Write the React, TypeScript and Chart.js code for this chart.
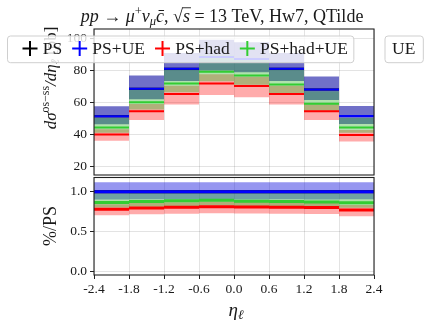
import React, { useEffect, useRef } from 'react';
import { Chart, registerables } from 'chart.js';

Chart.register(...registerables);

// ---------- data ----------
const binEdges = [-2.4, -1.8, -1.2, -0.6, 0.0, 0.6, 1.2, 1.8, 2.4];
const binCenters = [-2.1, -1.5, -0.9, -0.3, 0.3, 0.9, 1.5, 2.1];
const xTicks = [-2.4, -1.8, -1.2, -0.6, 0.0, 0.6, 1.2, 1.8, 2.4];
const yTicksTop = [20, 40, 60, 80, 100];
const yTicksRatio = [0.0, 0.5, 1.0];
const seriesLabels = ['PS', 'PS+UE', 'PS+had', 'PS+had+UE'];
const extraLegendLabel = 'UE';

const ps = [51.4, 68.5, 81.0, 88.3, 87.0, 81.0, 68.0, 51.6];
const psUe = [51.4, 68.5, 81.0, 88.3, 87.0, 81.0, 68.0, 51.6];
const psUeLo = [46.5, 62.0, 73.3, 79.9, 78.7, 73.3, 61.5, 46.7];
const psUeHi = [57.6, 76.7, 90.7, 98.9, 97.4, 90.7, 76.2, 57.8];
const psHad = [40.2, 54.6, 65.2, 71.8, 70.3, 65.2, 54.5, 39.8];
const psHadLo = [36.2, 49.1, 58.7, 64.6, 63.3, 58.7, 49.1, 35.8];
const psHadHi = [43.4, 59.0, 70.4, 77.5, 75.9, 70.4, 58.9, 43.0];
const psHadUe = [44.5, 60.2, 71.8, 79.0, 76.8, 71.2, 59.2, 44.5];
const psHadUeLo = [41.2, 55.7, 66.4, 73.1, 71.0, 65.9, 54.8, 41.2];
const psHadUeHi = [50.3, 68.0, 81.1, 89.3, 86.8, 80.5, 66.9, 50.3];

// ---------- styles ----------
const FONT = '"Liberation Serif", "DejaVu Serif", serif';
const lineColors = ['#000000', '#0000ff', '#ff0000', '#32cd32'];
const gridColor = 'rgba(0,0,0,0.11)';
const textColor = '#1a1a1a';

type Piece = { t: string; it?: boolean; sup?: boolean; sub?: boolean; over?: boolean };

function drawRich(ctx: CanvasRenderingContext2D, pieces: Piece[], x: number, y: number, size: number, rot = 0) {
  ctx.save();
  ctx.translate(x, y);
  if (rot) ctx.rotate(rot);
  const fontFor = (p: Piece) => `${p.it ? 'italic ' : ''}${p.sup || p.sub ? size * 0.7 : size}px ${FONT}`;
  let total = 0;
  pieces.forEach((p) => {
    ctx.font = fontFor(p);
    total += ctx.measureText(p.t).width;
  });
  let cx = -total / 2;
  ctx.textAlign = 'left';
  ctx.textBaseline = 'alphabetic';
  ctx.fillStyle = textColor;
  ctx.strokeStyle = textColor;
  const base = size * 0.35;
  pieces.forEach((p) => {
    ctx.font = fontFor(p);
    const w = ctx.measureText(p.t).width;
    const dy = p.sup ? -size * 0.38 : p.sub ? size * 0.2 : 0;
    ctx.fillText(p.t, cx, base + dy);
    if (p.over) {
      ctx.lineWidth = 0.9;
      ctx.beginPath();
      ctx.moveTo(cx - 1, base - size * 0.78);
      ctx.lineTo(cx + w + 1, base - size * 0.78);
      ctx.stroke();
    }
    cx += w;
  });
  ctx.restore();
}

const titlePieces: Piece[] = [
  { t: 'pp', it: true },
  { t: ' → ' },
  { t: 'μ', it: true },
  { t: '+', sup: true },
  { t: 'ν', it: true },
  { t: 'μ', it: true, sub: true },
  { t: 'c̄', it: true },
  { t: ', √' },
  { t: 's', it: true, over: true },
  { t: ' = 13 TeV, Hw7, QTilde' },
];
const yTitleTop: Piece[] = [
  { t: 'dσ', it: true },
  { t: 'os−ss', sup: true },
  { t: '/', it: true },
  { t: 'dη', it: true },
  { t: 'ℓ', it: true, sub: true },
  { t: ' [pb]' },
];
const yTitleRatio: Piece[] = [{ t: '%/PS' }];
const xTitle: Piece[] = [{ t: 'η', it: true }, { t: 'ℓ', it: true, sub: true }];

function stepSegments(vals: number[]) {
  const pts: { x: number; y: number | null }[] = [];
  vals.forEach((v, i) => {
    pts.push({ x: binEdges[i], y: v }, { x: binEdges[i + 1], y: v }, { x: binEdges[i + 1], y: null });
  });
  return pts;
}
function bandBars(lo: number[], hi: number[]) {
  return lo.map((l, i) => ({ x: binCenters[i], y: [l, hi[i]] }));
}
function ratio(vals: number[]) {
  return vals.map((v, i) => v / ps[i]);
}
function lineDs(label: string, vals: number[], color: string, order: number, width: number) {
  return {
    type: 'line' as const,
    label,
    data: stepSegments(vals),
    borderColor: color,
    backgroundColor: color,
    borderWidth: width,
    pointRadius: 0,
    spanGaps: false,
    fill: false,
    order,
  };
}
function bandDs(label: string, lo: number[], hi: number[], color: string, order: number) {
  return {
    type: 'bar' as const,
    label,
    data: bandBars(lo, hi),
    backgroundColor: color,
    borderWidth: 0,
    inflateAmount: 0,
    barPercentage: 1,
    categoryPercentage: 1,
    grouped: false,
    order,
  };
}

const framePlugin = {
  id: 'frame',
  afterDatasetsDraw(chart: any) {
    const { ctx, chartArea: a } = chart;
    ctx.save();
    ctx.strokeStyle = '#222';
    ctx.lineWidth = 1.1;
    ctx.strokeRect(a.left, a.top, a.right - a.left, a.bottom - a.top);
    ctx.restore();
  },
};

function roundRect(ctx: CanvasRenderingContext2D, x0: number, y0: number, x1: number, y1: number, r: number) {
  ctx.beginPath();
  ctx.moveTo(x0 + r, y0);
  ctx.lineTo(x1 - r, y0);
  ctx.quadraticCurveTo(x1, y0, x1, y0 + r);
  ctx.lineTo(x1, y1 - r);
  ctx.quadraticCurveTo(x1, y1, x1 - r, y1);
  ctx.lineTo(x0 + r, y1);
  ctx.quadraticCurveTo(x0, y1, x0, y1 - r);
  ctx.lineTo(x0, y0 + r);
  ctx.quadraticCurveTo(x0, y0, x0 + r, y0);
  ctx.closePath();
}

const topDecor = {
  id: 'topDecor',
  afterDraw(chart: any) {
    const ctx: CanvasRenderingContext2D = chart.ctx;
    drawRich(ctx, yTitleTop, 50, 78, 17, -Math.PI / 2);
    // legend
    ctx.save();
    const fs = 17.5;
    ctx.font = `${fs}px ${FONT}`;
    const y0 = 36, y1 = 62.7, cy = 48.5;
    let cx = 30;
    const items: { cx: number; tx: number; w: number }[] = [];
    seriesLabels.forEach((lab) => {
      const w = ctx.measureText(lab).width;
      const tx = cx + 12.7;
      items.push({ cx, tx, w });
      cx = tx + w + 17.5;
    });
    const last = items[items.length - 1];
    const bx1 = last.tx + last.w + 6;
    roundRect(ctx, 7.5, y0, bx1, y1, 3);
    ctx.fillStyle = 'rgba(255,255,255,0.8)';
    ctx.fill();
    ctx.strokeStyle = '#cfcfcf';
    ctx.lineWidth = 1;
    ctx.stroke();
    // extra partial legend box at right
    const ew = ctx.measureText(extraLegendLabel).width;
    roundRect(ctx, 385, y0, 392 + ew + 8, y1, 3);
    ctx.fillStyle = 'rgba(255,255,255,0.8)';
    ctx.fill();
    ctx.stroke();
    ctx.fillStyle = textColor;
    ctx.textBaseline = 'middle';
    ctx.textAlign = 'left';
    ctx.fillText(extraLegendLabel, 392, cy + 1);
    items.forEach((it, i) => {
      ctx.strokeStyle = lineColors[i];
      ctx.lineWidth = 2;
      ctx.beginPath();
      ctx.moveTo(it.cx - 7.5, cy);
      ctx.lineTo(it.cx + 7.5, cy);
      ctx.moveTo(it.cx, cy - 7.5);
      ctx.lineTo(it.cx, cy + 7.5);
      ctx.stroke();
      ctx.fillStyle = textColor;
      ctx.fillText(seriesLabels[i], it.tx, cy + 1);
    });
    ctx.restore();
    drawRich(ctx, titlePieces, 222, 15.5, 18);
  },
};

const botDecor = {
  id: 'botDecor',
  afterDraw(chart: any) {
    const ctx: CanvasRenderingContext2D = chart.ctx;
    drawRich(ctx, yTitleRatio, 50, 50, 18, -Math.PI / 2);
    drawRich(ctx, xTitle, 236, 133, 19);
  },
};

const tickFont = { family: FONT, size: 13.5 };

export default function App() {
  const topRef = useRef<HTMLCanvasElement>(null);
  const botRef = useRef<HTMLCanvasElement>(null);

  useEffect(() => {
    const zeroPad = (s: any) => {
      s.paddingTop = 0;
      s.paddingBottom = 0;
      s.paddingLeft = 0;
      s.paddingRight = 0;
    };
    const top = new Chart(topRef.current as HTMLCanvasElement, {
      type: 'bar',
      data: {
        datasets: [
          lineDs(seriesLabels[0], ps, lineColors[0], 3, 2),
          lineDs(seriesLabels[1], psUe, lineColors[1], 0, 2),
          lineDs(seriesLabels[2], psHad, lineColors[2], 2, 2),
          lineDs(seriesLabels[3], psHadUe, lineColors[3], 1, 2),
          bandDs('PS+UE band', psUeLo, psUeHi, 'rgba(17,17,163,0.6)', 7),
          bandDs('PS+had band', psHadLo, psHadHi, 'rgba(255,0,0,0.33)', 6),
          bandDs('PS+had+UE band', psHadUeLo, psHadUeHi, 'rgba(57,182,50,0.4)', 5),
        ] as any,
      },
      options: {
        animation: false,
        responsive: false,
        maintainAspectRatio: false,
        layout: { padding: { left: 0, right: 54, top: 29, bottom: 2 } },
        plugins: { legend: { display: false }, tooltip: { enabled: false }, title: { display: false } },
        scales: {
          x: {
            type: 'linear',
            min: -2.4,
            max: 2.4,
            offset: false,
            grid: { offset: false, color: gridColor, drawTicks: false },
            border: { display: false },
            ticks: { display: false },
            afterBuildTicks: (s: any) => {
              s.ticks = xTicks.map((v) => ({ value: v }));
            },
            afterFit: (s: any) => {
              s.height = 0;
              zeroPad(s);
            },
          },
          y: {
            type: 'linear',
            min: 15,
            max: 105.6,
            grid: { color: gridColor, tickLength: 4, tickColor: '#222' },
            border: { display: false },
            ticks: { font: tickFont, color: textColor, padding: 3, callback: (v: any) => String(v) },
            afterBuildTicks: (s: any) => {
              s.ticks = yTicksTop.map((v) => ({ value: v }));
            },
            afterFit: (s: any) => {
              s.width = 94;
              zeroPad(s);
            },
          },
        },
      } as any,
      plugins: [framePlugin, topDecor],
    });

    const bot = new Chart(botRef.current as HTMLCanvasElement, {
      type: 'bar',
      data: {
        datasets: [
          lineDs(seriesLabels[0], ratio(ps), lineColors[0], 3, 3),
          lineDs(seriesLabels[1], ratio(psUe), lineColors[1], 0, 3),
          lineDs(seriesLabels[2], ratio(psHad), lineColors[2], 2, 3),
          lineDs(seriesLabels[3], ratio(psHadUe), lineColors[3], 1, 3),
          bandDs('PS+UE band', ratio(psUeLo), ratio(psUeHi), 'rgba(22,22,222,0.45)', 7),
          bandDs('PS+had band', ratio(psHadLo), ratio(psHadHi), 'rgba(255,0,0,0.33)', 6),
          bandDs('PS+had+UE band', ratio(psHadUeLo), ratio(psHadUeHi), 'rgba(55,180,45,0.4)', 5),
        ] as any,
      },
      options: {
        animation: false,
        responsive: false,
        maintainAspectRatio: false,
        layout: { padding: { left: 0, right: 54, top: 1.5, bottom: 0 } },
        plugins: { legend: { display: false }, tooltip: { enabled: false }, title: { display: false } },
        scales: {
          x: {
            type: 'linear',
            min: -2.4,
            max: 2.4,
            offset: false,
            grid: { offset: false, color: gridColor, drawTicks: true, tickLength: 4, tickColor: '#222' },
            border: { display: false },
            ticks: {
              font: tickFont,
              color: textColor,
              padding: 2,
              autoSkip: false,
              maxRotation: 0,
              callback: (v: any) => Number(v).toFixed(1),
            },
            afterBuildTicks: (s: any) => {
              s.ticks = xTicks.map((v) => ({ value: v }));
            },
            afterFit: (s: any) => {
              s.height = 49;
              zeroPad(s);
            },
          },
          y: {
            type: 'linear',
            min: -0.046,
            max: 1.18,
            grid: { color: gridColor, tickLength: 4, tickColor: '#222' },
            border: { display: false },
            ticks: { font: tickFont, color: textColor, padding: 3, callback: (v: any) => Number(v).toFixed(1) },
            afterBuildTicks: (s: any) => {
              s.ticks = yTicksRatio.map((v) => ({ value: v }));
            },
            afterFit: (s: any) => {
              s.width = 94;
              zeroPad(s);
            },
          },
        },
      } as any,
      plugins: [framePlugin, botDecor],
    });

    return () => {
      top.destroy();
      bot.destroy();
    };
  }, []);

  return (
    <div style={{ position: 'absolute', left: 0, top: 0, width: 428, height: 324, background: '#fff' }}>
      <canvas
        ref={topRef}
        width={428}
        height={177}
        style={{ position: 'absolute', left: 0, top: 0, width: 428, height: 177 }}
      />
      <canvas
        ref={botRef}
        width={428}
        height={148}
        style={{ position: 'absolute', left: 0, top: 176, width: 428, height: 148 }}
      />
    </div>
  );
}
